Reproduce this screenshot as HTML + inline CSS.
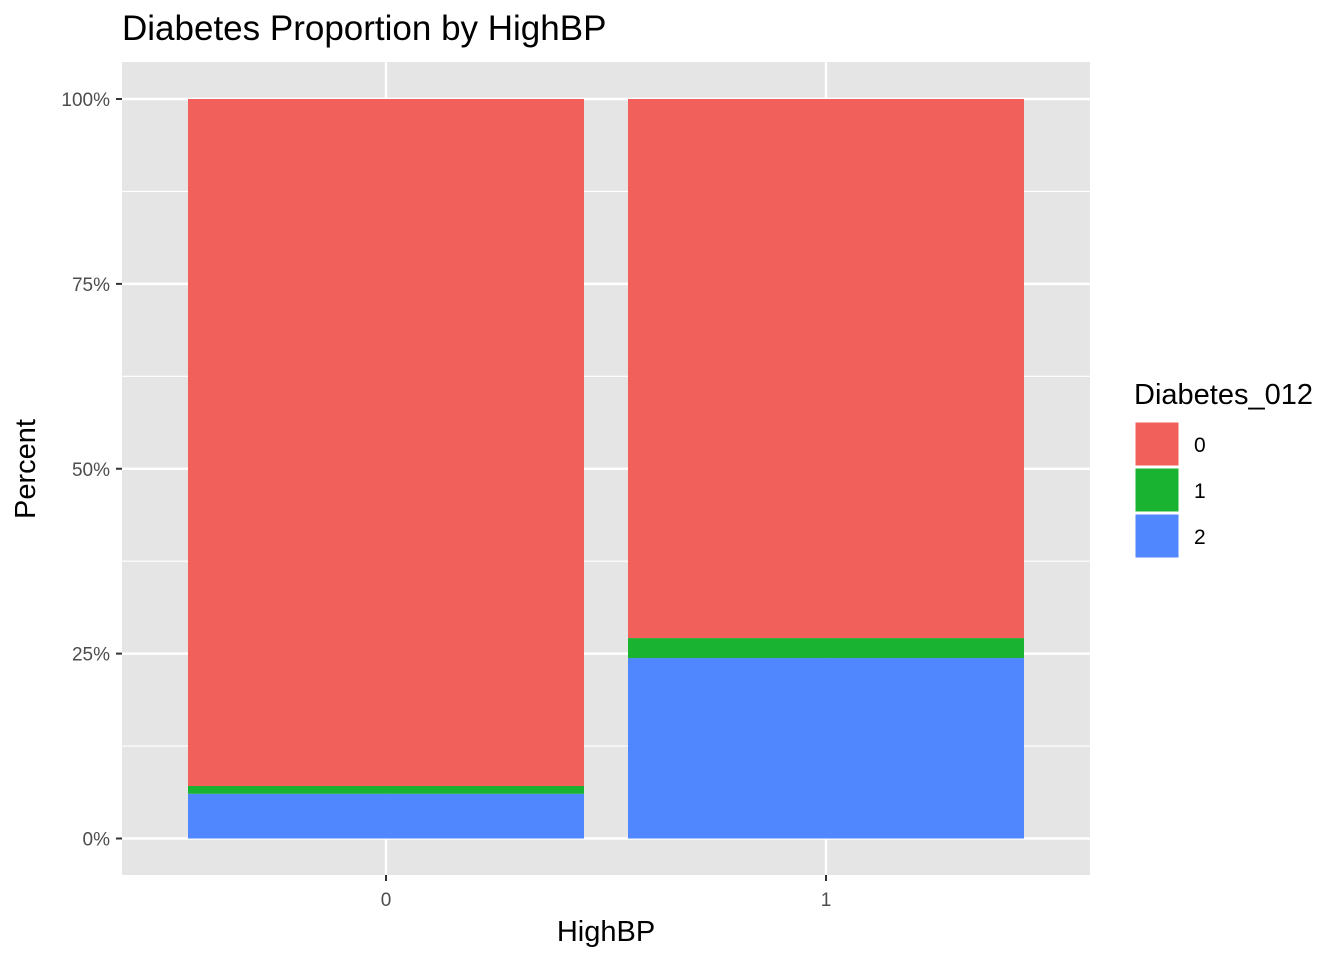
<!DOCTYPE html>
<html><head><meta charset="utf-8"><style>
body{margin:0;background:#fff;font-family:"Liberation Sans",Arial,sans-serif}
</style></head><body>
<svg width="1344" height="960" xmlns="http://www.w3.org/2000/svg" font-family="Liberation Sans, Arial, sans-serif">
<text x="122" y="40" font-size="35" fill="#000">Diabetes Proportion by HighBP</text>
<rect x="122" y="62" width="968" height="813" fill="#e5e5e5"/>
<g id="grid"></g>
<g id="bars"></g>
<g id="axes"></g>
<text x="606" y="941" font-size="29" text-anchor="middle">HighBP</text>
<text transform="translate(35,469) rotate(-90)" font-size="29" text-anchor="middle">Percent</text>
<g>
<text x="1134" y="404" font-size="29">Diabetes_012</text>
<g id="legend"></g>
</g>
</svg>
<script>
const categories=["0","1"];
const seriesNames=["2","1","0"];
const class2=[6.05,24.4];
const class1=[1.05,2.7];
const class0=[92.9,72.9];
const yTicks=[0,25,50,75,100];
const yTickLabels=["0%","25%","50%","75%","100%"];
const colorsActual={"0":"#F2605B","1":"#1AB331","2":"#5087FF"};
const ns="http://www.w3.org/2000/svg";
const y0=838.5,y100=99;
function ys(v){return y0-(y0-y100)*v/100;}
function xc(i){return 386+i*440;}
const bw=396;
function mk(tag,attrs,parent){const e=document.createElementNS(ns,tag);for(const k in attrs)e.setAttribute(k,attrs[k]);document.getElementById(parent).appendChild(e);return e;}
for(let t=12.5;t<100;t+=25){const l=mk("line",{x1:122,x2:1090,y1:ys(t),y2:ys(t),stroke:"#fff","stroke-width":1.2},"grid");

}
yTicks.forEach((t,i)=>{const l=mk("line",{x1:122,x2:1090,y1:ys(t),y2:ys(t),stroke:"#fff","stroke-width":2.4},"grid");


const tk=mk("line",{x1:116,x2:122,y1:ys(t),y2:ys(t),stroke:"#333","stroke-width":2},"axes");


const tx=mk("text",{x:110,y:ys(t)+7,"font-size":19,fill:"#4d4d4d","text-anchor":"end"},"axes");tx.textContent=yTickLabels[i];

});
categories.forEach((c,i)=>{const l=mk("line",{x1:xc(i),x2:xc(i),y1:62,y2:875,stroke:"#fff","stroke-width":2.4},"grid");


const tk=mk("line",{x1:xc(i),x2:xc(i),y1:875,y2:881,stroke:"#333","stroke-width":2},"axes");


const tx=mk("text",{x:xc(i),y:906,"font-size":19,fill:"#4d4d4d","text-anchor":"middle"},"axes");tx.textContent=c;


let base=0;
[["2",class2],["1",class1],["0",class0]].forEach(([s,arr])=>{const v=arr[i];
const r=mk("rect",{x:xc(i)-bw/2,width:bw,y:ys(base+v),height:ys(base)-ys(base+v),fill:colorsActual[s]},"bars");


base+=v;});});
["0","1","2"].forEach((s,i)=>{const y=422+i*46;
const r=mk("rect",{x:1135,y:y,width:44,height:44,fill:colorsActual[s],stroke:"#fff","stroke-width":1},"legend");


const t=mk("text",{x:1194,y:y+30,"font-size":21,fill:"#000"},"legend");t.textContent=s;

});
</script>
</body></html>
